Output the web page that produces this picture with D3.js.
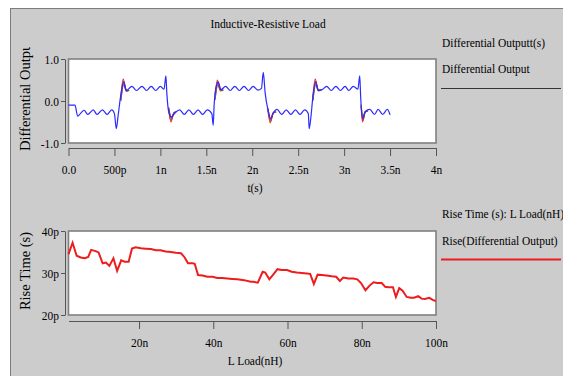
<!DOCTYPE html>
<html lang="en">
  <head>
    <meta charset="UTF-8" />
    <title>Inductive-Resistive Load</title>
    <script src="https://d3js.org/d3.v7.min.js"></script>
    <style>
      body { margin: 0; background: #fff; }
      text { font-family: "Liberation Serif", "Times New Roman", serif; fill: #000; font-size: 13px; }
      .axis path, .axis line { stroke: #555; }
      .axis text { font-size: 13px; font-family: "Liberation Serif", serif; }
      .ylab { font-size: 14.5px; }
    </style>
  </head>
  <body>
    <div class="chart"></div>
  </body>

  <script>
    // ---- top panel: differential output waveform (t in ns, v) ----
    var waveT = [0.00, 0.07, 0.10, 0.13, 0.17, 0.21, 0.27, 0.31, 0.37, 0.42, 0.47, 0.50, 0.52, 0.54, 0.57, 0.60,
      0.63, 0.69, 0.74, 0.80, 0.85, 0.90, 0.95, 1.00, 1.04, 1.06, 1.07, 1.09, 1.12, 1.16, 1.21, 1.26, 1.31,
      1.36, 1.41, 1.46, 1.51, 1.56, 1.575, 1.585, 1.60, 1.63, 1.66, 1.71, 1.76, 1.81, 1.86, 1.91, 1.96, 2.01,
      2.06, 2.10, 2.12, 2.14, 2.17, 2.20, 2.23, 2.27, 2.32, 2.37, 2.42, 2.47, 2.52, 2.57, 2.61, 2.62, 2.64,
      2.66, 2.69, 2.72, 2.76, 2.81, 2.86, 2.91, 2.96, 3.01, 3.05, 3.10, 3.15, 3.17, 3.18, 3.20, 3.23, 3.28,
      3.33, 3.37, 3.42, 3.47, 3.50];
    var waveV = [-0.10, -0.10, -0.36, -0.30, -0.22, -0.32, -0.21, -0.32, -0.21, -0.32, -0.21, -0.30, -0.66, -0.35, 0.15, 0.45,
      0.25, 0.35, 0.25, 0.35, 0.25, 0.35, 0.25, 0.35, 0.28, 0.60, 0.20, -0.25, -0.38, -0.28, -0.21, -0.32, -0.21,
      -0.32, -0.21, -0.32, -0.21, -0.30, -0.58, -0.10, 0.25, 0.45, 0.27, 0.35, 0.25, 0.35, 0.25, 0.35, 0.25, 0.35,
      0.26, 0.30, 0.68, 0.20, -0.20, -0.42, -0.28, -0.20, -0.32, -0.21, -0.32, -0.21, -0.32, -0.21, -0.30, -0.66, -0.35,
      0.10, 0.45, 0.25, 0.27, 0.35, 0.25, 0.35, 0.25, 0.35, 0.25, 0.35, 0.28, 0.60, 0.10, -0.42, -0.25, -0.20,
      -0.32, -0.20, -0.32, -0.20, -0.33];

    // overshoot of the other sweep traces near each edge, [t, v]
    var edgeRed = [
      [[0.57, 0.10], [0.595, 0.52], [0.625, 0.28], [0.655, 0.24]],
      [[1.09, -0.20], [1.115, -0.50], [1.145, -0.30], [1.17, -0.27]],
      [[1.595, 0.15], [1.62, 0.50], [1.65, 0.28], [1.68, 0.25]],
      [[2.17, -0.22], [2.195, -0.52], [2.225, -0.30], [2.25, -0.26]],
      [[2.66, 0.10], [2.685, 0.52], [2.715, 0.28], [2.745, 0.25]],
      [[3.185, -0.15], [3.20, -0.50], [3.225, -0.28], [3.25, -0.24]]
    ];
    var edgeGreen = [
      [[0.57, 0.05], [0.60, 0.47], [0.63, 0.26], [0.66, 0.25]],
      [[1.09, -0.18], [1.115, -0.46], [1.145, -0.29], [1.17, -0.27]],
      [[1.595, 0.10], [1.625, 0.46], [1.655, 0.26], [1.685, 0.26]],
      [[2.17, -0.20], [2.20, -0.48], [2.23, -0.29], [2.26, -0.26]],
      [[2.66, 0.05], [2.69, 0.47], [2.72, 0.26], [2.75, 0.26]],
      [[3.185, -0.12], [3.205, -0.46], [3.23, -0.27], [3.26, -0.24]]
    ];
    var edgeMagenta = [
      [[0.57, 0.02], [0.60, 0.42], [0.63, 0.24], [0.66, 0.26]],
      [[1.09, -0.16], [1.12, -0.42], [1.15, -0.28], [1.17, -0.26]],
      [[1.595, 0.05], [1.625, 0.42], [1.655, 0.25], [1.685, 0.26]],
      [[2.17, -0.18], [2.20, -0.45], [2.23, -0.28], [2.26, -0.26]],
      [[2.66, 0.02], [2.69, 0.42], [2.72, 0.25], [2.75, 0.26]],
      [[3.185, -0.10], [3.205, -0.42], [3.23, -0.26], [3.26, -0.24]]
    ];
    var edgeOlive = [
      [[0.57, 0.00], [0.60, 0.38], [0.63, 0.23], [0.66, 0.26]],
      [[1.09, -0.15], [1.12, -0.40], [1.15, -0.27], [1.17, -0.26]],
      [[1.595, 0.02], [1.625, 0.38], [1.655, 0.24], [1.685, 0.26]],
      [[2.17, -0.17], [2.20, -0.43], [2.23, -0.27], [2.26, -0.26]],
      [[2.66, 0.00], [2.69, 0.38], [2.72, 0.24], [2.75, 0.26]],
      [[3.185, -0.08], [3.205, -0.39], [3.23, -0.25], [3.26, -0.24]]
    ];
    var edgeColors = ["#e8232a", "#2e9a3a", "#d22ad6", "#6b6b1e"];

    var timeTicks = [0, 0.5, 1, 1.5, 2, 2.5, 3, 3.5, 4];
    var timeLabels = ["0.0", "500p", "1n", "1.5n", "2n", "2.5n", "3n", "3.5n", "4n"];
    var voltTicks = [-1, 0, 1];
    var voltLabels = ["-1.0", "0.0", "1.0"];

    // ---- bottom panel: rise time (ps) vs L load (nH) ----
    var loadNH = [1, 2.1, 3.2, 4.3, 5.4, 6.3, 7.1, 8.3, 9.1, 10.2, 11.1, 12.0, 13.1, 14.1, 15.2, 16.1, 17.2,
      18.1, 19.1, 20.5, 21.8, 23.2, 24.5, 25.8, 27.2, 28.6, 29.9, 31.3, 32.3, 33.2, 34.4, 35.0, 35.9, 37.1,
      38.4, 39.8, 41.1, 42.4, 43.8, 45.1, 46.5, 48.3, 50.1, 50.8, 52.0, 53.3, 54.0, 55.1, 56.2, 57.3, 58.4,
      59.9, 61.1, 62.5, 63.8, 65.2, 66.1, 67.1, 68.1, 69.2, 70.5, 71.9, 73.1, 74.1, 75.0, 76.4, 77.7, 78.8,
      79.8, 81.0, 82.1, 83.2, 84.2, 85.4, 86.3, 87.2, 88.4, 89.2, 90.1, 91.0, 92.1, 93.2, 94.1, 95.2, 96.1,
      97.0, 98.2, 99.1, 100];
    var riseTimePs = [34.5, 37.2, 34.1, 33.7, 33.5, 33.8, 35.5, 35.2, 34.9, 32.3, 32.5, 31.7, 33.5, 30.5, 33.0, 32.7, 32.7,
      35.8, 36.1, 35.9, 35.8, 35.7, 35.4, 35.4, 35.1, 35.0, 34.8, 34.7, 33.7, 32.3, 32.3, 32.2, 29.5, 29.4,
      29.1, 29.1, 28.8, 28.8, 28.7, 28.6, 28.5, 28.3, 27.9, 27.9, 27.7, 30.3, 30.1, 28.5, 29.7, 30.9, 30.7,
      30.7, 30.3, 30.1, 30.0, 29.9, 29.8, 27.4, 29.6, 29.5, 29.4, 29.2, 29.1, 28.1, 28.9, 28.7, 28.7, 28.5,
      27.6, 25.9, 27.0, 27.8, 27.6, 27.6, 26.7, 26.6, 26.6, 24.3, 26.4, 25.8, 24.3, 24.1, 24.1, 24.5, 23.9,
      23.8, 24.1, 23.6, 23.3];
    var loadTicks = [20, 40, 60, 80, 100];
    var loadLabels = ["20n", "40n", "60n", "80n", "100n"];
    var riseTicks = [20, 30, 40];
    var riseLabels = ["20p", "30p", "40p"];

    var W = 563, H = 376;
    var narrow = 0.88; // horizontal text is drawn condensed in the source
    var svg = d3.select(".chart").append("svg").attr("width", W).attr("height", H);

    function label(x, y, str, anchor) {
      return svg.append("text")
        .attr("transform", `translate(${x}, ${y}) scale(${narrow}, 1)`)
        .attr("text-anchor", anchor || "start")
        .text(str);
    }

    // grey frame
    svg.append("rect")
      .attr("x", 10.5).attr("y", 8.5).attr("width", W).attr("height", H)
      .attr("fill", "#cccccc").attr("stroke", "#7c7c7c").attr("stroke-width", 1);

    label(268, 28, "Inductive-Resistive Load", "middle");

    var plotL = 68.5, plotR = 436;

    function panel(p) {
      svg.append("rect")
        .attr("x", plotL).attr("y", p.top)
        .attr("width", plotR - plotL).attr("height", p.bottom - p.top)
        .attr("fill", "#fff").attr("stroke", "#808080").attr("stroke-width", 1.6);

      var yAxis = d3.axisLeft(p.y).tickValues(p.yTicks)
        .tickFormat((d, i) => p.yLabels[i]).tickSize(4).tickSizeOuter(0).tickPadding(3);
      svg.append("g").attr("class", "axis")
        .attr("transform", "translate(65, 0)").call(yAxis)
        .selectAll("text").attr("transform", `scale(${narrow}, 1)`);

      var xAxis = d3.axisBottom(p.x).tickValues(p.xTicks)
        .tickFormat((d, i) => p.xLabels[i]).tickSize(8).tickSizeOuter(0).tickPadding(9);
      svg.append("g").attr("class", "axis")
        .attr("transform", `translate(0, ${p.axisY})`).call(xAxis)
        .selectAll("text").attr("transform", `scale(${narrow}, 1)`);

      label(255, p.axisY + 44, p.xTitle, "middle");
    }

    // top panel
    var xT = d3.scaleLinear().domain([0, 4]).range([plotL, plotR]);
    var yV = d3.scaleLinear().domain([-1, 1]).range([143, 59]);
    panel({ top: 59, bottom: 143, x: xT, y: yV, xTicks: timeTicks, xLabels: timeLabels,
      yTicks: voltTicks, yLabels: voltLabels, axisY: 148, xTitle: "t(s)" });

    var clip = svg.append("clipPath").attr("id", "ylab-clip");
    clip.append("rect").attr("x", 0).attr("y", 47).attr("width", 60).attr("height", 120);
    svg.append("g").attr("clip-path", "url(#ylab-clip)")
      .append("text").attr("class", "ylab")
      .attr("transform", "translate(30, 151) rotate(-90)")
      .text("Differential Output");

    var edgeLine = d3.line().x((d) => xT(d[0])).y((d) => yV(d[1])).curve(d3.curveMonotoneX);
    [edgeOlive, edgeMagenta, edgeGreen, edgeRed].forEach(function (segs, k) {
      var col = edgeColors[3 - k];
      segs.forEach(function (seg) {
        svg.append("path").attr("d", edgeLine(seg))
          .attr("fill", "none").attr("stroke", col).attr("stroke-width", 1.1);
      });
    });

    var wave = waveT.map((t, i) => [t, waveV[i]]);
    svg.append("path").datum(wave)
      .attr("fill", "none").attr("stroke", "#2b2bff").attr("stroke-width", 1.2)
      .attr("d", edgeLine);

    // legend top
    label(442, 47, "Differential Outputt(s)");
    label(442, 73, "Differential Output");
    svg.append("line").attr("x1", 441).attr("x2", 561).attr("y1", 88.5).attr("y2", 88.5)
      .attr("stroke", "#333").attr("stroke-width", 1);

    // bottom panel
    var xL = d3.scaleLinear().domain([1, 100]).range([plotL, plotR]);
    var yR = d3.scaleLinear().domain([20, 40]).range([315, 231]);
    panel({ top: 231, bottom: 315, x: xL, y: yR, xTicks: loadTicks, xLabels: loadLabels,
      yTicks: riseTicks, yLabels: riseLabels, axisY: 321, xTitle: "L Load(nH)" });

    svg.append("text").attr("class", "ylab")
      .attr("transform", "translate(30, 271) rotate(-90)")
      .attr("text-anchor", "middle")
      .text("Rise Time (s)");

    var rise = loadNH.map((l, i) => [l, riseTimePs[i]]);
    svg.append("path").datum(rise)
      .attr("fill", "none").attr("stroke", "#ee1c1c").attr("stroke-width", 2)
      .attr("d", d3.line().x((d) => xL(d[0])).y((d) => yR(d[1])));

    label(442, 218, "Rise Time (s): L Load(nH)");
    label(442, 245, "Rise(Differential Output)");
    svg.append("line").attr("x1", 441).attr("x2", 561).attr("y1", 259.5).attr("y2", 259.5)
      .attr("stroke", "#ee1c1c").attr("stroke-width", 2);
  </script>
</html>
